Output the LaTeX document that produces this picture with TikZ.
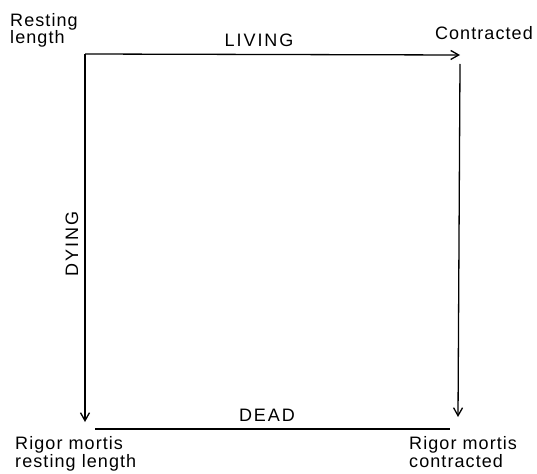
\documentclass[tikz,border=0pt]{standalone}
\usepackage{fontspec}
\setmainfont{Liberation Sans}[LetterSpace=6]
\newfontfamily\routefont{Liberation Sans}[LetterSpace=11]
\usetikzlibrary{arrows.meta,positioning}
\tikzset{
  path arrow/.style={-{Straight Barb[length=8pt,width=9pt]}, line width=1.3pt},
  path line/.style={line width=1.3pt},
  state/.style={align=left, inner sep=0pt, font=\fontsize{18}{16.5}\selectfont},
  route/.style={inner sep=0pt, font=\routefont\fontsize{18}{18}\selectfont},
}

\begin{document}
\begin{tikzpicture}[x=1pt, y=1pt]

  \useasboundingbox (0,0) rectangle (537,-473);

  % Corners of the square
  \coordinate (rest) at (85,-54);
  \coordinate (contr) at (460,-55);
  \coordinate (rigrest) at (85,-422);
  \coordinate (rigcontr) at (458,-417);

  % States (base = last line)
  \node[state, anchor=base west] (restlbl) at (10,-44) {Resting\\length};
  \node[state, anchor=base east] (contrlbl) at (533,-40) {Contracted};
  \node[state, anchor=base west] (rigrestlbl) at (15,-467) {Rigor mortis\\resting length};
  \node[state, anchor=base west] (rigcontrlbl) at (409,-467) {Rigor mortis\\contracted};

  % Paths between states
  \draw[path arrow] (rest) -- (contr);
  \draw[path arrow] ([yshift=-9pt]contr) -- (rigcontr);
  \draw[path arrow] (rest) -- (rigrest);
  \draw[path line] ([shift={(10pt,-7pt)}]rigrest) -- ([shift={(-8pt,-12pt)}]rigcontr);

  % Path labels
  \node[route, anchor=base] (living) at (259,-47) {LIVING};
  \node[route, anchor=base] (dead) at (267,-421) {DEAD};
  \node[route, rotate=90, anchor=base] (dying) at (78,-244) {DYING};

\end{tikzpicture}
\end{document}
